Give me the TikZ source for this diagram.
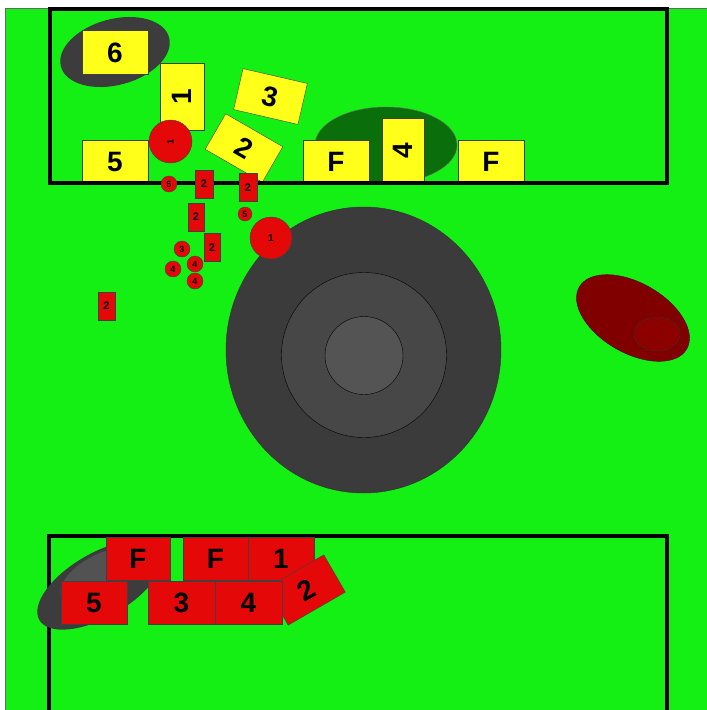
\documentclass[tikz,border=0pt]{standalone}
\usepackage{fontspec}
\setmainfont{Liberation Sans}
\usetikzlibrary{positioning}
\definecolor{field}{RGB}{20,240,20}
\definecolor{padyellow}{RGB}{255,255,25}
\definecolor{padred}{RGB}{228,8,8}
\definecolor{darkgreen}{RGB}{10,110,10}
\definecolor{rock}{RGB}{60,60,60}
\definecolor{maroon}{RGB}{128,0,0}

\tikzset{
  ybox/.style={draw=black!75, fill=padyellow, inner sep=0pt, outer sep=0pt,
    minimum width=66pt, minimum height=44pt, font=\fontsize{28}{28}\selectfont\bfseries},
  rbox/.style={ybox, fill=padred},
  rtag/.style={draw=black!75, fill=padred, inner sep=0pt, minimum width=18pt,
    minimum height=28pt, font=\fontsize{11}{11}\selectfont\bfseries},
  rdot/.style={circle, draw=black!75, fill=padred, inner sep=0pt,
    minimum size=16pt, font=\fontsize{9}{9}\selectfont\bfseries},
  frame/.style={line width=4pt},
}

\begin{document}
\begin{tikzpicture}[x=1pt, y=-1pt]
  \clip (0,0) rectangle (707,710);
  \fill[white] (0,0) rectangle (707,710);
  \filldraw[fill=field, draw=black!60] (5,8) rectangle (712,715);

  % upper area
  \fill[rock] (115,52) circle [x radius=56pt, y radius=33pt, rotate=15];
  \filldraw[fill=darkgreen, draw=black!60] (386,145) circle [x radius=71pt, y radius=38pt];
  \node[ybox] (y6) at (115,52.5) {6};
  \node[ybox, minimum width=67pt, rotate=90] (y1) at (182,96.5) {1};
  \node[ybox, minimum height=42pt, rotate=-13] (y3) at (270.5,96.5) {3};
  \node[ybox, minimum height=41pt, rotate=-30] (y2) at (244,148) {2};
  \node[ybox] (y5) at (115,162) {5};
  \node[ybox] (yF1) at (336,162) {F};
  \node[ybox, minimum height=42pt, rotate=90] (y4) at (403,151) {4};
  \node[ybox] (yF2) at (491,162) {F};
  \draw[frame] (49.5,8.5) rectangle (666.5,183);

  % centre
  \filldraw[fill=black!77, draw=black!80] (363.5,350) circle [x radius=137.5pt, y radius=143pt];
  \filldraw[fill=black!72, draw=black] (364,355) circle [radius=82.5pt];
  \filldraw[fill=black!67, draw=black] (364,355.5) circle [radius=39pt];
  \filldraw[fill=maroon, draw=maroon!70!black] (633,318) circle [x radius=62pt, y radius=35pt, rotate=-30];
  \filldraw[fill=maroon!90!red, draw=black!80] (657,334) circle [x radius=23pt, y radius=17pt];

  % red markers
  \node[rdot, minimum size=43pt, font=\fontsize{9}{9}\selectfont\bfseries, rotate=90] (r1a) at (170.5,141.5) {1};
  \node[rdot] (r5a) at (169,184) {5};
  \node[rtag] (t2a) at (204,184) {2};
  \node[rtag] (t2b) at (248,187.5) {2};
  \node[rtag, minimum width=16pt] (t2c) at (196,217) {2};
  \node[rdot, minimum size=14pt] (r5b) at (245,214) {5};
  \node[rdot, minimum size=42pt, font=\fontsize{10}{10}\selectfont\bfseries] (r1b) at (271,238) {1};
  \node[rtag, minimum width=16pt] (t2d) at (212,247.5) {2};
  \foreach \x/\y/\lab in {182/249/3, 173/269/4, 195/264/4, 195/281/4}
    \node[rdot] (c\lab-\x) at (\x,\y) {\lab};
  \node[rtag, minimum width=17pt] (t2e) at (106.5,306) {2};

  % lower area
  \draw[frame] (49,720) -- (49,536) -- (666.5,536) -- (666.5,720);
  \fill[rock] (100,585) circle [x radius=70pt, y radius=32pt, rotate=30];
  \fill[black!68] (98,575) circle [x radius=42pt, y radius=19pt, rotate=30];
  \node[rbox, minimum width=64pt, minimum height=43pt] (bF1) at (138,558.5) {F};
  \node[rbox, minimum width=65pt, minimum height=43pt] (bF2) at (215.5,558.5) {F};
  \node[rbox, minimum height=43pt, right=0pt of bF2] (b1) {1};
  \node[rbox, minimum height=43pt, rotate=30] (b2) at (306,590) {2};
  \node[rbox, minimum height=43pt] (b5) at (94,602.5) {5};
  \node[rbox, minimum width=67pt, minimum height=43pt] (b3) at (181.5,602.5) {3};
  \node[rbox, minimum width=67pt, minimum height=43pt, right=0pt of b3] (b4) {4};
\end{tikzpicture}
\end{document}
